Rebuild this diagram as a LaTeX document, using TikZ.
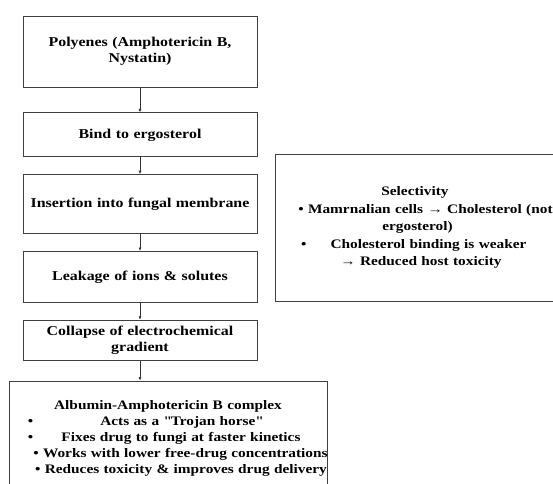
\documentclass[tikz,border=0pt]{standalone}
\usepackage{fontspec}
\setmainfont{Liberation Serif}[FakeStretch=1.18]
\usetikzlibrary{positioning, arrows.meta}
\tikzset{
    base/.style={draw=black!75, line width=0.8pt, align=center, font=\bfseries\fontsize{13.5}{16.5}\selectfont},
    stepbox/.style={base, rectangle, text width=222pt, inner xsep=6pt},
    sidebox/.style={base, rectangle, text width=283pt, inner xsep=6pt, font=\bfseries\fontsize{13}{17.5}\selectfont},
    dosebox/.style={base, rectangle, text width=306pt, inner xsep=6pt, font=\bfseries\fontsize{13}{15.8}\selectfont},
    arrow/.style={-{Latex[length=3.5pt, width=3pt]}, line width=0.8pt, black!80}
}
\newcommand{\shiftline}[2]{\makebox[0pt]{\hspace*{#1}#2}}
\newcommand{\bulletat}[1]{\makebox[0pt][l]{\hspace*{#1}\textbullet}}

\begin{document}
\begin{tikzpicture}[x=1pt, y=-1pt, node distance=17pt]
    \useasboundingbox (0,0) rectangle (553,483);
    \clip (0,0) rectangle (553,483);

    % Mechanism chain
    \node [stepbox, minimum height=71pt] (poly) at (140,51.5) {Polyenes (Amphotericin B,\\ Nystatin)};
    \node [stepbox, minimum height=44pt, below=25pt of poly] (bind) {Bind to ergosterol};
    \node [stepbox, minimum height=59pt, below=of bind] (insert) {Insertion into fungal membrane};
    \node [stepbox, minimum height=51pt, below=of insert] (leak) {Leakage of ions \& solutes};
    \node [stepbox, minimum height=40pt, below=of leak] (collapse) {Collapse of electrochemical\\ gradient};

    % Albumin complex
    \node [dosebox, minimum height=115pt, below=20pt of collapse, xshift=28pt] (albumin) {Albumin-Amphotericin B complex\\
        \bulletat{-140pt}\shiftline{27pt}{Acts as a \textquotedbl Trojan horse\textquotedbl}\\
        \bulletat{-140pt}\shiftline{26pt}{Fixes drug to fungi at faster kinetics}\\
        \shiftline{25pt}{\textbullet{} Works with lower free-drug concentrations}\\
        \shiftline{26pt}{\textbullet{} Reduces toxicity \& improves drug delivery}};

    % Selectivity
    \node [sidebox, minimum height=147pt] (select) at (422.5,227.5) {\shiftline{-15pt}{Selectivity}\\
        \shiftline{6pt}{\textbullet{} Mamrnalian cells → Cholesterol (not}\\
        \shiftline{-10pt}{ergosterol)}\\
        \bulletat{-121.5pt}\shiftline{12pt}{Cholesterol binding is weaker}\\
        \shiftline{-3pt}{→ Reduced host toxicity}};

    % Connections
    \draw [arrow] (poly) -- (bind);
    \draw [arrow] (bind) -- (insert);
    \draw [arrow] (insert) -- (leak);
    \draw [arrow] (leak) -- (collapse);
    \draw [arrow] (collapse.south) -- (collapse.south |- albumin.north);
\end{tikzpicture}
\end{document}
